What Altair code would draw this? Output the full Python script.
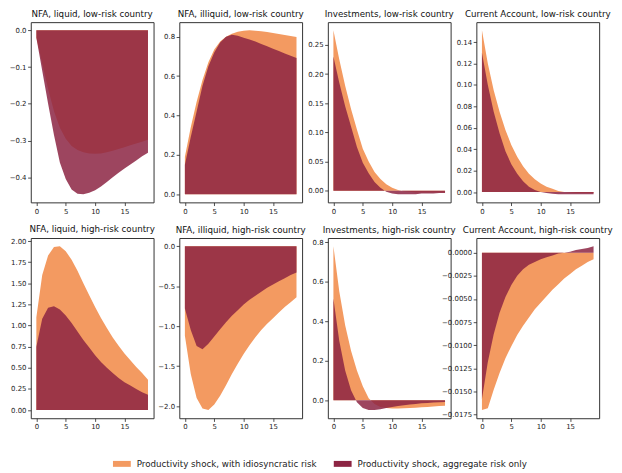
import altair as alt
import pandas as pd

T = list(range(20))
S_IDIO = "Productivity shock, with idiosyncratic risk"
S_AGG = "Productivity shock, aggregate risk only"

# NFA, liquid, low-risk
liq_low_idio = [-0.02, -0.09, -0.16, -0.22, -0.265, -0.295, -0.315, -0.326, -0.332, -0.335,
                -0.336, -0.335, -0.332, -0.328, -0.323, -0.318, -0.313, -0.308, -0.303, -0.298]
liq_low_agg = [-0.02, -0.11, -0.20, -0.285, -0.36, -0.405, -0.433, -0.445, -0.446, -0.442,
               -0.435, -0.425, -0.413, -0.400, -0.388, -0.376, -0.365, -0.354, -0.343, -0.333]
# NFA, illiquid, low-risk
ill_low_idio = [0.19, 0.34, 0.47, 0.58, 0.67, 0.735, 0.775, 0.80, 0.815, 0.825,
                0.83, 0.832, 0.83, 0.827, 0.823, 0.818, 0.813, 0.808, 0.803, 0.798]
ill_low_agg = [0.15, 0.29, 0.42, 0.55, 0.65, 0.72, 0.77, 0.80, 0.81, 0.805,
               0.795, 0.785, 0.775, 0.763, 0.751, 0.739, 0.727, 0.715, 0.703, 0.692]
# Investments, low-risk
inv_low_idio = [0.275, 0.225, 0.18, 0.14, 0.105, 0.072, 0.05, 0.032, 0.02, 0.011,
                0.005, 0.001, -0.001, -0.002, -0.003, -0.003, -0.003, -0.003, -0.003, -0.003]
inv_low_agg = [0.23, 0.185, 0.145, 0.11, 0.075, 0.048, 0.03, 0.015, 0.005, -0.002,
               -0.005, -0.006, -0.006, -0.006, -0.006, -0.005, -0.005, -0.005, -0.004, -0.004]
# Current account, low-risk
ca_low_idio = [0.151, 0.12, 0.095, 0.075, 0.058, 0.044, 0.033, 0.024, 0.017, 0.012,
               0.008, 0.005, 0.003, 0.001, 0.0, -0.0005, -0.001, -0.001, -0.001, -0.001]
ca_low_agg = [0.13, 0.10, 0.075, 0.055, 0.038, 0.026, 0.017, 0.010, 0.005, 0.002,
              0.0, -0.001, -0.0015, -0.002, -0.002, -0.002, -0.002, -0.002, -0.002, -0.002]
# NFA, liquid, high-risk
liq_high_idio = [1.10, 1.60, 1.83, 1.93, 1.94, 1.88, 1.78, 1.65, 1.50, 1.36,
                 1.22, 1.09, 0.97, 0.86, 0.76, 0.67, 0.59, 0.51, 0.44, 0.36]
liq_high_agg = [0.75, 1.08, 1.21, 1.23, 1.19, 1.12, 1.03, 0.93, 0.83, 0.74,
                0.65, 0.57, 0.50, 0.44, 0.38, 0.33, 0.29, 0.25, 0.21, 0.18]
# NFA, illiquid, high-risk
ill_high_idio = [-1.12, -1.60, -1.90, -2.03, -2.05, -1.98, -1.87, -1.74, -1.60, -1.47,
                 -1.35, -1.24, -1.14, -1.05, -0.97, -0.90, -0.83, -0.76, -0.70, -0.64]
ill_high_agg = [-0.78, -1.05, -1.25, -1.29, -1.22, -1.13, -1.04, -0.95, -0.87, -0.80,
                -0.73, -0.67, -0.62, -0.57, -0.52, -0.48, -0.44, -0.40, -0.36, -0.33]
# Investments, high-risk
inv_high_idio = [0.78, 0.55, 0.38, 0.25, 0.15, 0.07, 0.01, -0.02, -0.035, -0.04,
                 -0.042, -0.042, -0.041, -0.04, -0.038, -0.036, -0.034, -0.032, -0.03, -0.028]
inv_high_agg = [0.515, 0.30, 0.15, 0.05, -0.01, -0.04, -0.05, -0.05, -0.046, -0.04,
                -0.035, -0.03, -0.026, -0.022, -0.019, -0.016, -0.014, -0.012, -0.010, -0.009]
# Current account, high-risk
ca_high_idio = [-0.0170, -0.0168, -0.0148, -0.0130, -0.0114, -0.0101, -0.0089, -0.0079, -0.0070, -0.0061,
                -0.0054, -0.0047, -0.0040, -0.0034, -0.0028, -0.0023, -0.0018, -0.0014, -0.0010, -0.0007]
ca_high_agg = [-0.0158, -0.0118, -0.0088, -0.0065, -0.0048, -0.0035, -0.0025, -0.0018, -0.0013, -0.0010,
               -0.0007, -0.0005, -0.0003, -0.0001, 0.0, 0.0001, 0.0003, 0.0004, 0.0005, 0.0007]

panels = [
    ("NFA, liquid, low-risk country", liq_low_idio, liq_low_agg, [0.0, -0.1, -0.2, -0.3, -0.4], ".1f"),
    ("NFA, illiquid, low-risk country", ill_low_idio, ill_low_agg, [0.0, 0.2, 0.4, 0.6, 0.8], ".1f"),
    ("Investments, low-risk country", inv_low_idio, inv_low_agg, [0.0, 0.05, 0.10, 0.15, 0.20, 0.25], ".2f"),
    ("Current Account, low-risk country", ca_low_idio, ca_low_agg, [0.0, 0.02, 0.04, 0.06, 0.08, 0.10, 0.12, 0.14], ".2f"),
    ("NFA, liquid, high-risk country", liq_high_idio, liq_high_agg, [0.0, 0.25, 0.5, 0.75, 1.0, 1.25, 1.5, 1.75, 2.0], ".2f"),
    ("NFA, illiquid, high-risk country", ill_high_idio, ill_high_agg, [0.0, -0.5, -1.0, -1.5, -2.0], ".1f"),
    ("Investments, high-risk country", inv_high_idio, inv_high_agg, [0.0, 0.2, 0.4, 0.6, 0.8], ".1f"),
    ("Current Account, high-risk country", ca_high_idio, ca_high_agg,
     [0.0, -0.0025, -0.005, -0.0075, -0.01, -0.0125, -0.015, -0.0175], ".4f"),
]

color_scale = alt.Scale(domain=[S_IDIO, S_AGG], range=["#F39A61", "#8C2443"])
FONT = "DejaVu Sans"


def make_panel(i, title, idio, agg, ticks, fmt):
    rows = []
    for s, vals in ((S_IDIO, idio), (S_AGG, agg)):
        for t, v in zip(T, vals):
            rows.append({"t": t, "v": v, "zero": 0.0, "series": s})
    df = pd.DataFrame(rows)
    allv = idio + agg + [0.0]
    lo, hi = min(allv), max(allv)
    pad = (hi - lo) * 0.05
    x = alt.X("t:Q", scale=alt.Scale(domain=[-0.95, 19.95], nice=False, zero=False),
              axis=alt.Axis(values=[0, 5, 10, 15], format="d", title=None))
    y = alt.Y("v:Q", stack=None, scale=alt.Scale(domain=[lo - pad, hi + pad], nice=False, zero=False),
              axis=alt.Axis(values=ticks, format=fmt, title=None))
    legend = None
    if i == 0:
        legend = alt.Legend(title=None, orient="none", legendX=83, legendY=437, direction="horizontal",
                            columns=2, symbolType="M-1,-0.333H1V0.333H-1Z", symbolSize=324,
                            symbolStrokeWidth=0, labelFont=FONT, labelFontSize=8.8, labelColor="#222",
                            columnPadding=17, labelOffset=6, labelLimit=400, symbolOpacity=1)
    base = alt.Chart(df)
    a1 = base.transform_filter(alt.datum.series == S_IDIO).mark_area(opacity=1).encode(
        x=x, y=y, y2="zero:Q", color=alt.Color("series:N", scale=color_scale, legend=legend))
    a2 = base.transform_filter(alt.datum.series == S_AGG).mark_area(opacity=0.85).encode(
        x=x, y=y, y2="zero:Q", color=alt.Color("series:N", scale=color_scale, legend=legend))
    return alt.layer(a1, a2).properties(
        width=124, height=182,
        title=alt.TitleParams(title, fontSize=8.8, font=FONT, fontWeight="normal", color="#111", offset=3))


charts = [make_panel(i, *p) for i, p in enumerate(panels)]
chart = alt.concat(*charts, columns=4, spacing={"row": 36, "column": 26}, bounds="flush").properties(
    padding={"left": 0, "top": -1, "right": 0, "bottom": 0}
).configure_view(stroke="#333", strokeWidth=1).configure_axis(
    domain=False, grid=False, tickColor="#222", tickWidth=0.8, tickSize=3.2,
    labelFont=FONT, labelFontSize=7.0, labelColor="#222", labelPadding=1.6
).configure_legend(labelFont=FONT)

chart.save("out.html", embed_options={"renderer": "svg", "actions": False})
